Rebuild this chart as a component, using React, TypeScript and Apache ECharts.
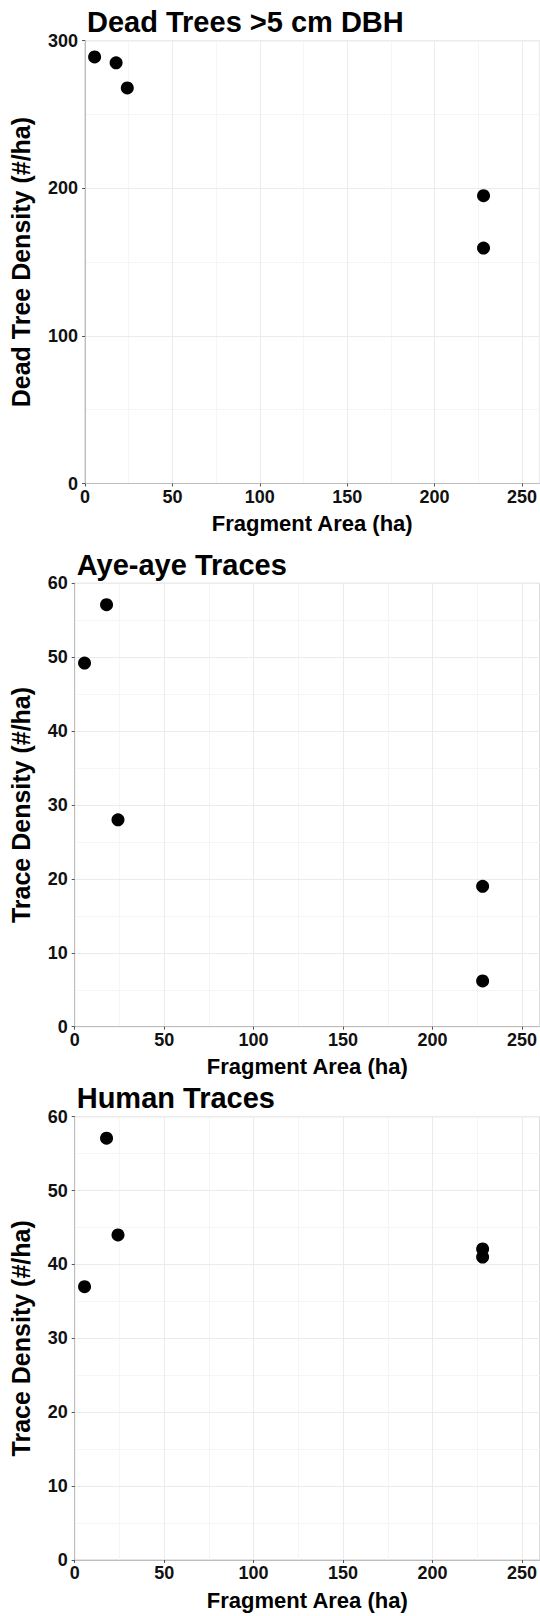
import React, { useEffect, useRef } from "react";
import * as echarts from "echarts";

// Data
const fragmentArea = [5.5, 17.8, 24.2, 228, 228];
const deadTreeDensity = [289, 285, 268, 195, 159.5];
const ayeAyeTraceDensity = [49.2, 57.1, 28.0, 19.0, 6.2];
const humanTraceDensity = [37.0, 57.1, 44.0, 42.1, 41.0];

const panelTitles = ["Dead Trees >5 cm DBH", "Aye-aye Traces", "Human Traces"];
const yAxisTitles = ["Dead Tree Density (#/ha)", "Trace Density (#/ha)", "Trace Density (#/ha)"];
const xAxisTitle = "Fragment Area (ha)";
const yMaxes = [300, 60, 60];
const yIntervals = [100, 10, 10];
const xMax = 260;
const xInterval = 50;

const FONT = '"Liberation Sans", Arial, Helvetica, sans-serif';

const grids = [
  { left: 85, top: 40.7, width: 455, height: 442.8 },
  { left: 74.7, top: 583.3, width: 465.3, height: 443.4 },
  { left: 74.7, top: 1116.7, width: 465.3, height: 443.3 },
];
const yNameGaps = [52, 41, 41];

export default function App() {
  const ref = useRef<HTMLDivElement>(null);
  useEffect(() => {
    if (!ref.current) return;
    const chart = echarts.init(ref.current, undefined, { renderer: "svg" });
    const seriesValues = [deadTreeDensity, ayeAyeTraceDensity, humanTraceDensity];
    const xAxes: any[] = [];
    const yAxes: any[] = [];
    const series: any[] = [];
    const graphics: any[] = [];
    grids.forEach((g, i) => {
      xAxes.push({
        type: "value",
        gridIndex: i,
        min: 0,
        max: xMax,
        interval: xInterval,
        z: 1,
        axisLine: { show: true, onZero: false, lineStyle: { color: "#bdbdbd", width: 1 } },
        axisTick: { show: true, length: 3, lineStyle: { color: "#555" } },
        axisLabel: {
          showMaxLabel: false,
          fontSize: 18,
          fontWeight: "bold",
          color: "#111",
          fontFamily: FONT,
          margin: 4,
        },
        splitLine: { show: true, lineStyle: { color: "#ebebeb", width: 1 } },
        name: xAxisTitle,
        nameLocation: "middle",
        nameGap: 29,
        nameTextStyle: { fontSize: 22, fontWeight: "bold", color: "#000", fontFamily: FONT },
      });
      xAxes.push({
        type: "value",
        gridIndex: i,
        min: 0,
        max: xMax,
        interval: xInterval / 2,
        position: "bottom",
        z: 0,
        axisLine: { show: false },
        axisTick: { show: false },
        axisLabel: { show: false },
        splitLine: { show: true, lineStyle: { color: "#f5f5f5", width: 1 } },
      });
      yAxes.push({
        type: "value",
        gridIndex: i,
        min: 0,
        max: yMaxes[i],
        interval: yIntervals[i],
        z: 1,
        axisLine: { show: true, onZero: false, lineStyle: { color: "#bdbdbd", width: 1 } },
        axisTick: { show: true, length: 3, lineStyle: { color: "#555" } },
        axisLabel: {
          fontSize: 18,
          fontWeight: "bold",
          color: "#111",
          fontFamily: FONT,
          margin: 7,
        },
        splitLine: { show: true, lineStyle: { color: "#ebebeb", width: 1 } },
        minorTick: { show: false, splitNumber: 2 },
        minorSplitLine: { show: true, lineStyle: { color: "#f5f5f5", width: 1 } },
        name: yAxisTitles[i],
        nameLocation: "middle",
        nameGap: yNameGaps[i],
        nameTextStyle: { fontSize: 25, fontWeight: "bold", color: "#000", fontFamily: FONT },
      });
      series.push({
        type: "scatter",
        xAxisIndex: 2 * i,
        yAxisIndex: i,
        symbol: "circle",
        symbolSize: 13,
        itemStyle: { color: "#000", opacity: 1 },
        z: 3,
        clip: false,
        data: fragmentArea.map((x, j) => [x, seriesValues[i][j]]),
      });
      graphics.push({
        type: "text",
        left: g.left + 2,
        top: g.top - 33,
        style: {
          text: panelTitles[i],
          font: `bold 29px ${FONT}`,
          fill: "#000",
        },
      });
    });
    chart.setOption({
      animation: false,
      backgroundColor: "#fff",
      grid: grids.map((g) => ({
        ...g,
        show: true,
        borderColor: "#c8c8c8",
        borderWidth: 1,
        backgroundColor: "transparent",
        containLabel: false,
      })),
      xAxis: xAxes,
      yAxis: yAxes,
      series,
      graphic: graphics,
    });
    return () => chart.dispose();
  }, []);
  return (
    <div
      ref={ref}
      style={{ position: "absolute", left: 0, top: 0, width: 540, height: 1616 }}
    />
  );
}
